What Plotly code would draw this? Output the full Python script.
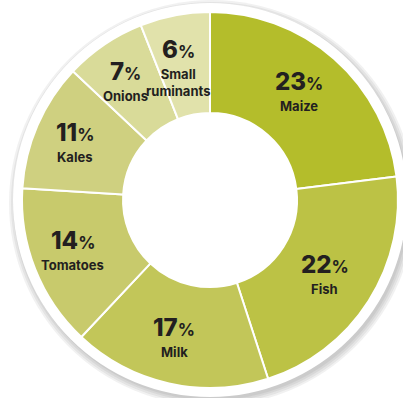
import math
import plotly.graph_objects as go

# Share of household food spending by item (%)
categories = ["Maize", "Fish", "Milk", "Tomatoes", "Kales", "Onions", "Small ruminants"]
shares = [23, 22, 17, 14, 11, 7, 6]
name_lines = ["Maize", "Fish", "Milk", "Tomatoes", "Kales", "Onions", "Small<br>ruminants"]
colors = ["#b4bd2b", "#bcc245", "#c2c659", "#c8ca6c", "#cfd080", "#d9db99", "#e1e2ab"]

W, H = 403, 398
CX, CY = 210, 200          # donut centre (px)
R_OUT, R_IN = 188, 87      # slice radii (px)
R_RING = 197               # white rim radius
R_LABEL = 142              # radius where labels sit
LX, LY = CX - 5, CY + 2    # label ring centre

INK = "#231f20"
FONT = "Inter, Lato, sans-serif"


def px_to_paper(x, y):
    return x / W, 1 - y / H


def circle(cx, cy, r, **kw):
    x0, y1 = px_to_paper(cx - r, cy - r)
    x1, y0 = px_to_paper(cx + r, cy + r)
    return dict(type="circle", xref="paper", yref="paper",
                x0=x0, x1=x1, y0=y0, y1=y1, layer="below", **kw)


# soft drop shadow built up from stacked translucent discs, then the white rim
shapes = []
for r in [203, 201, 199, 197]:
    shapes.append(circle(CX + 2, CY + 3, r, fillcolor="rgba(60,60,60,0.07)",
                         line=dict(width=0)))
shapes.append(circle(CX, CY, R_RING, fillcolor="white", line=dict(width=0)))

dx0, dy1 = px_to_paper(CX - R_OUT, CY - R_OUT)
dx1, dy0 = px_to_paper(CX + R_OUT, CY + R_OUT)

fig = go.Figure(go.Pie(
    labels=categories,
    values=shares,
    sort=False,
    direction="clockwise",
    rotation=0,
    hole=R_IN / R_OUT,
    marker=dict(colors=colors, line=dict(color="white", width=2)),
    textinfo="none",
    hoverinfo="label+percent",
    showlegend=False,
    domain=dict(x=[dx0, dx1], y=[dy0, dy1]),
))

# labels at each slice's mid-angle
annotations = []
total = sum(shares)
start = 90.0
for cat, v, name in zip(categories, shares, name_lines):
    sweep = 360.0 * v / total
    mid = math.radians(start - sweep / 2)
    start -= sweep
    lx = LX + R_LABEL * math.cos(mid)
    ly = LY - R_LABEL * math.sin(mid)
    px, py = px_to_paper(lx, ly)
    annotations.append(dict(
        x=px, y=py, xref="paper", yref="paper", showarrow=False,
        xanchor="center", yanchor="bottom", yshift=-3,
        text=f"{v}<span style='font-size:17px;font-weight:700'>%</span>",
        font=dict(family=FONT, size=24, color=INK, weight=800),
    ))
    annotations.append(dict(
        x=px, y=py, xref="paper", yref="paper", showarrow=False,
        xanchor="center", yanchor="top", yshift=-1,
        text=name,
        font=dict(family=FONT, size=13, color=INK, weight=700),
    ))

fig.update_layout(
    width=W, height=H,
    margin=dict(l=0, r=0, t=0, b=0),
    paper_bgcolor="white",
    plot_bgcolor="white",
    shapes=shapes,
    annotations=annotations,
)

fig.write_html("out.html")
